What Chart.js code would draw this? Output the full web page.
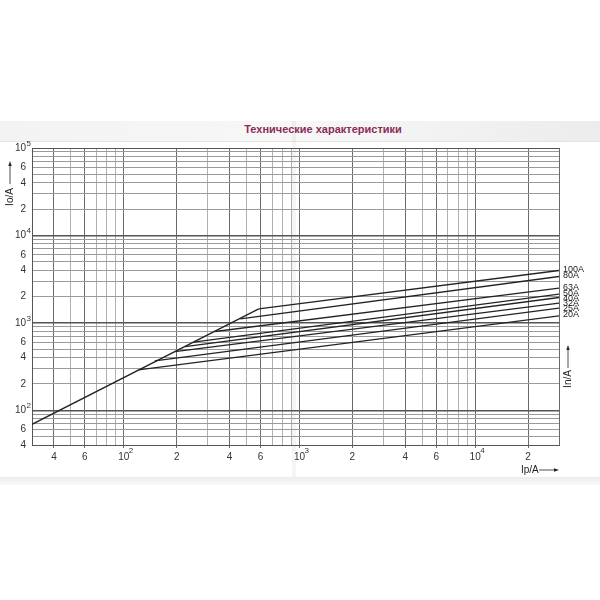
<!DOCTYPE html>
<html>
<head>
<meta charset="utf-8">
<script src="https://cdn.jsdelivr.net/npm/chart.js@4.4.0/dist/chart.umd.min.js"></script>
<style>
  body { margin: 0; background: #fff; font-family: "Liberation Sans", Arial, sans-serif; }
  #wrap { position: relative; width: 600px; height: 600px; overflow: hidden; }
  #band { position: absolute; left: 0; top: 121px; width: 600px; height: 20px;
          background: linear-gradient(to right, #f3f3f3, #f7f7f7 50%, #ececec); border-bottom: 1px solid #e4e4e4; }
  #title { position: absolute; left: 0; top: 121px; width: 646px; height: 20px; line-height: 17px;
           text-align: center; font-size: 11px; font-weight: bold; color: #8c2c57; }
  #foot { position: absolute; left: 0; top: 477px; width: 600px; height: 8px;
          background: linear-gradient(to bottom, #ececec, #fafafa); }
  #fold { position: absolute; left: 292px; top: 121px; width: 4px; height: 356px;
          background: rgba(0,0,0,0.04); }
  canvas { position: absolute; left: 0; top: 0; }
</style>
</head>
<body>
<div id="wrap">
  <div id="band"></div>
  <div id="title">Технические характеристики</div>
  <div id="foot"></div>
  <div id="fold"></div>
  <canvas id="fuse" width="600" height="600"></canvas>
</div>
<script>
// fuse ratings, break point of each curve on the common line, value at the right edge
var ratings = ['100A', '80A', '63A', '50A', '40A', '32A', '25A', '20A'];
var breakIp = [586, 460, 331, 249, 223, 195, 150, 121];
var breakIo = [1446, 1111, 795, 601, 535, 469, 367, 290];
var endIo   = [3970, 3390, 2490, 2130, 1950, 1680, 1470, 1200];
var startIp = 30, startIo = 69;
var xMin = 30, xMax = 30000;
var yMin = 40, yMax = 100000;

// tick labels: mantissa text, decades get an exponent drawn as superscript
var xLabelValues = [40, 60, 100, 200, 400, 600, 1000, 2000, 4000, 6000, 10000, 20000];
var xLabelTexts  = ['4', '6', '10', '2', '4', '6', '10', '2', '4', '6', '10', '2'];
var yLabelValues = [40, 60, 100, 200, 400, 600, 1000, 2000, 4000, 6000, 10000, 20000, 40000, 60000, 100000];
var yLabelTexts  = ['4', '6', '10', '2', '4', '6', '10', '2', '4', '6', '10', '2', '4', '6', '10'];

function logTicks(min, max) {
  var out = [];
  for (var e = 0; e < 7; e++) {
    for (var m = 1; m < 10; m++) {
      var v = m * Math.pow(10, e);
      if (v >= min - 1e-6 && v <= max + 1e-6) out.push({ value: v });
    }
  }
  return out;
}
function isDecade(v) {
  var l = Math.log10(v);
  return Math.abs(l - Math.round(l)) < 1e-6;
}

var lineStyle = { borderColor: '#232323', borderWidth: 1.35, pointRadius: 0, fill: false, tension: 0 };

// common rising line up to the highest break point
var datasets = [Object.assign({
  label: 'common',
  data: [{ x: startIp, y: startIo }, { x: breakIp[0], y: breakIo[0] }]
}, lineStyle)];

ratings.forEach(function(r, i) {
  datasets.push(Object.assign({
    label: r,
    data: [{ x: breakIp[i], y: breakIo[i] }, { x: xMax, y: endIo[i] }]
  }, lineStyle));
});

var labelPlugin = {
  id: 'fuseLabels',
  afterDraw: function(chart) {
    var c = chart.ctx, a = chart.chartArea;
    var xs = chart.scales.x, ys = chart.scales.y;
    c.save();
    c.textBaseline = 'middle';

    // exponents of the decade labels
    c.font = '8px "Liberation Sans", Arial, sans-serif';
    c.fillStyle = '#333';
    c.textAlign = 'left';
    xLabelValues.forEach(function(v) {
      if (isDecade(v)) c.fillText(String(Math.round(Math.log10(v))), xs.getPixelForValue(v) + 5, 451);
    });
    yLabelValues.forEach(function(v) {
      if (isDecade(v)) c.fillText(String(Math.round(Math.log10(v))), 26.5, ys.getPixelForValue(v) - 4.5);
    });

    // rating labels at the right end
    c.fillStyle = '#222';
    c.font = '9px "Liberation Sans", Arial, sans-serif';
    var prev = -1000;
    ratings.forEach(function(r, i) {
      var pts = chart.getDatasetMeta(i + 1).data;
      var y = Math.max(pts[pts.length - 1].y - 1, prev + 5);
      c.fillText(r, a.right + 4, y);
      prev = y;
    });

    // axis names with arrows
    c.font = '10px "Liberation Sans", Arial, sans-serif';
    c.strokeStyle = '#222';
    c.lineWidth = 0.8;
    c.save();
    c.translate(10, 197);
    c.rotate(-Math.PI / 2);
    c.textAlign = 'center';
    c.fillText('Io/A', 0, 0);
    c.restore();
    c.beginPath(); c.moveTo(10, 184); c.lineTo(10, 164); c.stroke();
    c.beginPath(); c.moveTo(10, 161); c.lineTo(8.3, 166); c.lineTo(11.7, 166); c.closePath(); c.fill();

    c.save();
    c.translate(568, 379);
    c.rotate(-Math.PI / 2);
    c.textAlign = 'center';
    c.fillText('In/A', 0, 0);
    c.restore();
    c.beginPath(); c.moveTo(568, 368); c.lineTo(568, 348); c.stroke();
    c.beginPath(); c.moveTo(568, 345); c.lineTo(566.3, 350); c.lineTo(569.7, 350); c.closePath(); c.fill();

    c.textAlign = 'left';
    c.fillText('Ip/A', 521, 470);
    c.beginPath(); c.moveTo(539, 470); c.lineTo(556, 470); c.stroke();
    c.beginPath(); c.moveTo(559, 470); c.lineTo(554, 468.3); c.lineTo(554, 471.7); c.closePath(); c.fill();
    c.restore();
  }
};

var ctx = document.getElementById('fuse');
var chart = new Chart(ctx, {
  type: 'line',
  data: { datasets: datasets },
  options: {
    responsive: false,
    animation: false,
    devicePixelRatio: 1,
    layout: { padding: { left: 0, top: 148, right: 41, bottom: 125 } },
    plugins: { legend: { display: false }, tooltip: { enabled: false } },
    scales: {
      x: {
        type: 'logarithmic',
        min: xMin, max: xMax,
        afterBuildTicks: function(s) { s.ticks = logTicks(xMin, xMax); },
        afterFit: function(s) { s.height = 30; },
        border: { color: '#555' },
        grid: {
          color: function(c) {
            if (!c.tick) return '#aaa';
            return xLabelValues.indexOf(c.tick.value) >= 0 || c.tick.value === xMax ? '#6a6a6a' : '#b0b0b0';
          },
          tickLength: 3,
          tickColor: function(c) { return c.tick && xLabelValues.indexOf(c.tick.value) >= 0 ? '#666' : 'rgba(0,0,0,0)'; }
        },
        ticks: {
          autoSkip: false, maxRotation: 0, padding: 3,
          color: '#333',
          font: { size: 10, family: '"Liberation Sans", Arial, sans-serif' },
          callback: function(v) {
            var k = xLabelValues.indexOf(v);
            return k >= 0 ? xLabelTexts[k] : '';
          }
        }
      },
      y: {
        type: 'logarithmic',
        min: yMin, max: yMax,
        afterBuildTicks: function(s) { s.ticks = logTicks(yMin, yMax); },
        afterFit: function(s) { s.width = 32; },
        border: { color: '#555' },
        grid: {
          color: function(c) { return c.tick && isDecade(c.tick.value) ? '#555' : '#9a9a9a'; },
          lineWidth: function(c) { return c.tick && isDecade(c.tick.value) && c.tick.value < yMax ? 1.4 : 1; },
          drawTicks: false
        },
        ticks: {
          autoSkip: false, padding: 6,
          color: '#333',
          font: { size: 10, family: '"Liberation Sans", Arial, sans-serif' },
          callback: function(v) {
            var k = yLabelValues.indexOf(v);
            return k >= 0 ? yLabelTexts[k] : '';
          }
        }
      }
    }
  },
  plugins: [labelPlugin]
});
</script>
</body>
</html>
